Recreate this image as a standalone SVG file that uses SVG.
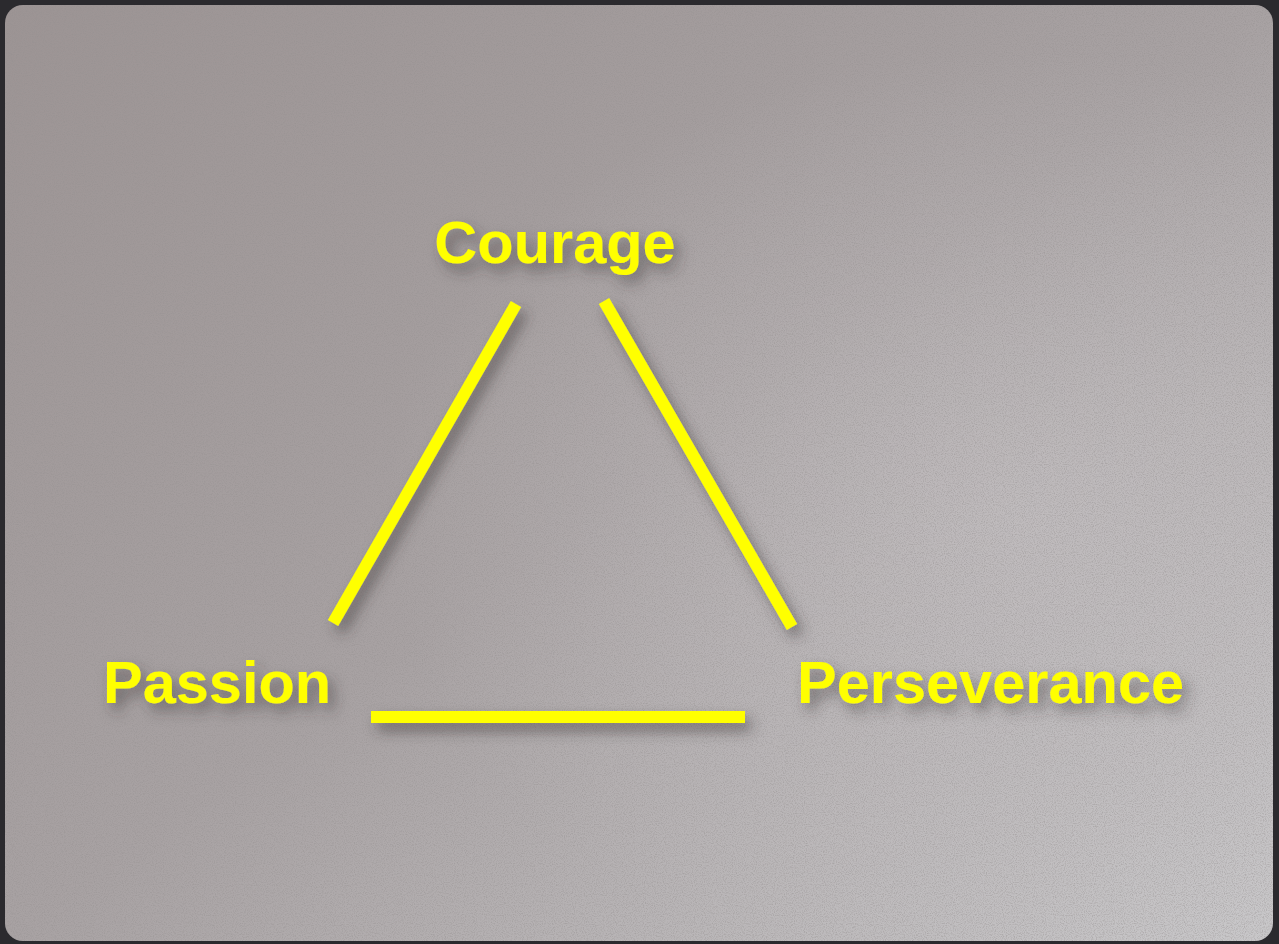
<svg xmlns="http://www.w3.org/2000/svg" width="1279" height="944" viewBox="0 0 1279 944">
  <style>
    .lbl { font-family: "Liberation Sans", Arial, sans-serif; font-weight: bold; font-size: 59.5px; fill: #FFFF00; filter: url(#shadow); }
    .edge { stroke: #FFFF00; stroke-width: 12; fill: none; filter: url(#shadow); }
  </style>
  <defs>
    <linearGradient id="bgLin" x1="0" y1="0" x2="1" y2="1">
      <stop offset="0" stop-color="#9c9494"/>
      <stop offset="0.5" stop-color="#a8a2a3"/>
      <stop offset="1" stop-color="#c9c8ca"/>
    </linearGradient>
    <radialGradient id="bgRad" cx="0.8" cy="0.55" r="0.5">
      <stop offset="0" stop-color="#c4c0c2" stop-opacity="0.7"/>
      <stop offset="1" stop-color="#c4c0c2" stop-opacity="0"/>
    </radialGradient>
    <filter id="noise" x="0" y="0" width="100%" height="100%">
      <feTurbulence type="fractalNoise" baseFrequency="0.9" numOctaves="2" seed="3" result="n"/>
      <feColorMatrix type="matrix" values="0 0 0 0 0.3  0 0 0 0 0.28  0 0 0 0 0.28  0 0 0 -2.6 1.5" in="n"/>
      <feComposite operator="in" in2="SourceGraphic"/>
    </filter>
    <filter id="shadow" filterUnits="userSpaceOnUse" x="0" y="0" width="1279" height="944">
      <feDropShadow dx="6" dy="8" stdDeviation="7" flood-color="#3a3434" flood-opacity="0.55"/>
    </filter>
  </defs>
  <rect x="0" y="0" width="1279" height="944" fill="#2b2a2e"/>
  <rect x="5" y="5" width="1268" height="936" rx="18" fill="url(#bgLin)"/>
  <rect x="5" y="5" width="1268" height="936" rx="18" fill="url(#bgRad)"/>
  <rect x="5" y="5" width="1268" height="936" rx="18" fill="#000" filter="url(#noise)" opacity="0.45"/>

  <g id="connectors">
    <line class="edge" x1="516" y1="304" x2="333" y2="623"/>
    <line class="edge" x1="604" y1="301" x2="792" y2="627"/>
    <line class="edge" x1="371" y1="717" x2="745" y2="717"/>
  </g>
  <g id="node-courage">
    <text class="lbl" x="555" y="263" text-anchor="middle">Courage</text>
  </g>
  <g id="node-passion">
    <text class="lbl" x="103" y="703">Passion</text>
  </g>
  <g id="node-perseverance">
    <text class="lbl" x="797" y="703">Perseverance</text>
  </g>
</svg>
